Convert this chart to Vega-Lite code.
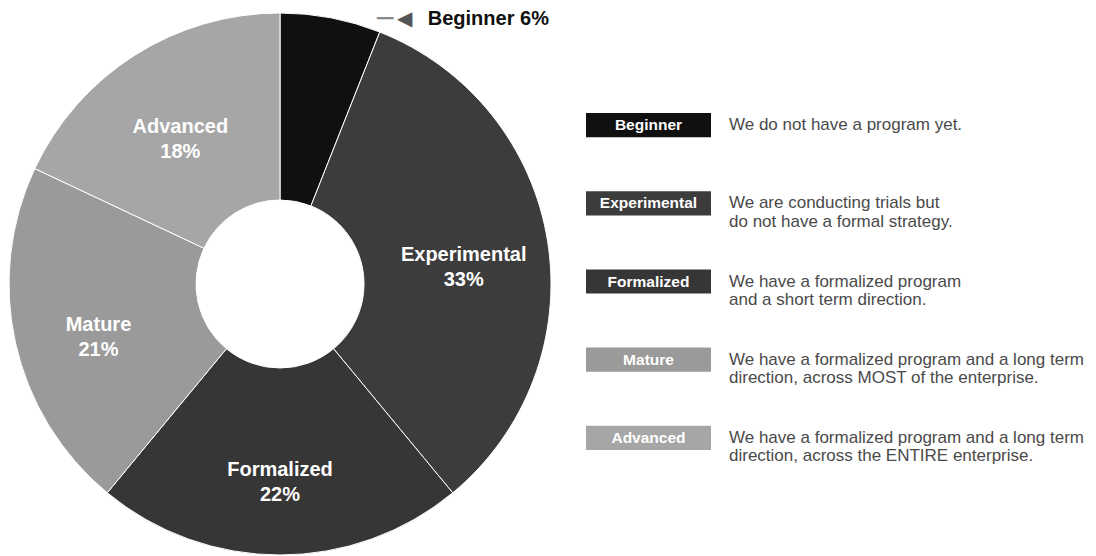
{
  "$schema": "https://vega.github.io/schema/vega-lite/v6.json",
  "background": "white",
  "padding": {"top": 8, "left": 0, "right": 0, "bottom": 0},
  "spacing": 0,
  "bounds": "flush",
  "config": {"view": {"stroke": null}, "font": "Liberation Sans"},
  "datasets": {
    "levels": [
      {"order": 1, "name": "Beginner", "pct": 6, "desc": "We do not have a program yet."},
      {"order": 2, "name": "Experimental", "pct": 33, "desc": "We are conducting trials but\ndo not have a formal strategy."},
      {"order": 3, "name": "Formalized", "pct": 22, "desc": "We have a formalized program\nand a short term direction."},
      {"order": 4, "name": "Mature", "pct": 21, "desc": "We have a formalized program and a long term\ndirection, across MOST of the enterprise."},
      {"order": 5, "name": "Advanced", "pct": 18, "desc": "We have a formalized program and a long term\ndirection, across the ENTIRE enterprise."}
    ]
  },
  "hconcat": [
    {
      "width": 560,
      "height": 548,
      "data": {"name": "levels"},
      "transform": [
        {"calculate": "[datum.name, datum.pct + '%']", "as": "label"},
        {"calculate": "datum.name + ' ' + datum.pct + '%'", "as": "callout"}
      ],
      "encoding": {
        "theta": {"field": "pct", "type": "quantitative", "stack": true},
        "order": {"field": "order", "type": "quantitative"}
      },
      "layer": [
        {
          "mark": {"type": "arc", "outerRadius": 271, "innerRadius": 84, "stroke": "white", "strokeWidth": 1},
          "encoding": {
            "color": {
              "field": "name", "type": "nominal", "legend": null,
              "scale": {
                "domain": ["Beginner", "Experimental", "Formalized", "Mature", "Advanced"],
                "range": ["#101010", "#3c3c3c", "#363636", "#9a9a9a", "#a6a6a6"]
              }
            }
          }
        },
        {
          "mark": {"type": "text", "radius": 186, "fill": "white", "fontWeight": "bold", "fontSize": 20, "lineHeight": 25, "baseline": "middle", "align": "center"},
          "encoding": {
            "text": {"condition": {"test": "datum.name !== 'Beginner'", "field": "label"}, "value": ""}
          }
        },
        {
          "mark": {"type": "text", "radius": 271, "dx": 97, "dy": 1, "fill": "#111", "fontWeight": "bold", "fontSize": 20, "baseline": "middle", "align": "left"},
          "encoding": {
            "text": {"condition": {"test": "datum.name === 'Beginner'", "field": "callout"}, "value": ""}
          }
        },
        {
          "mark": {"type": "text", "radius": 271, "dx": 74, "dy": 1, "fill": "#555", "fontSize": 20, "baseline": "middle", "align": "center"},
          "encoding": {
            "text": {"condition": {"test": "datum.name === 'Beginner'", "value": "◀"}, "value": ""}
          }
        },
        {
          "mark": {"type": "text", "radius": 271, "dx": 54, "dy": 1, "fill": "#888", "fontSize": 14, "baseline": "middle", "align": "center"},
          "encoding": {
            "text": {"condition": {"test": "datum.name === 'Beginner'", "value": "━━"}, "value": ""}
          }
        }
      ]
    },
    {
      "width": 536,
      "height": 548,
      "data": {"name": "levels"},
      "encoding": {
        "y": {
          "field": "name", "type": "nominal", "axis": null, "sort": {"field": "order"},
          "scale": {"range": [76, 467], "paddingInner": 0.69, "paddingOuter": 0.345}
        }
      },
      "layer": [
        {
          "mark": {"type": "bar", "x": 26, "x2": 151},
          "encoding": {
            "color": {
              "field": "name", "type": "nominal", "legend": null,
              "scale": {
                "domain": ["Beginner", "Experimental", "Formalized", "Mature", "Advanced"],
                "range": ["#101010", "#2a2a2a", "#363636", "#9f9f9f", "#a9a9a9"]
              }
            }
          }
        },
        {
          "mark": {"type": "text", "x": 88.5, "fill": "white", "fontWeight": "bold", "fontSize": 15.5, "align": "center", "baseline": "middle"},
          "encoding": {"text": {"field": "name"}}
        },
        {
          "mark": {"type": "text", "x": 169, "fill": "#4a4a4a", "fontSize": 17, "lineHeight": 18.5, "align": "left", "baseline": "middle", "lineBreak": "\n"},
          "encoding": {"text": {"field": "desc"}}
        }
      ]
    }
  ]
}
